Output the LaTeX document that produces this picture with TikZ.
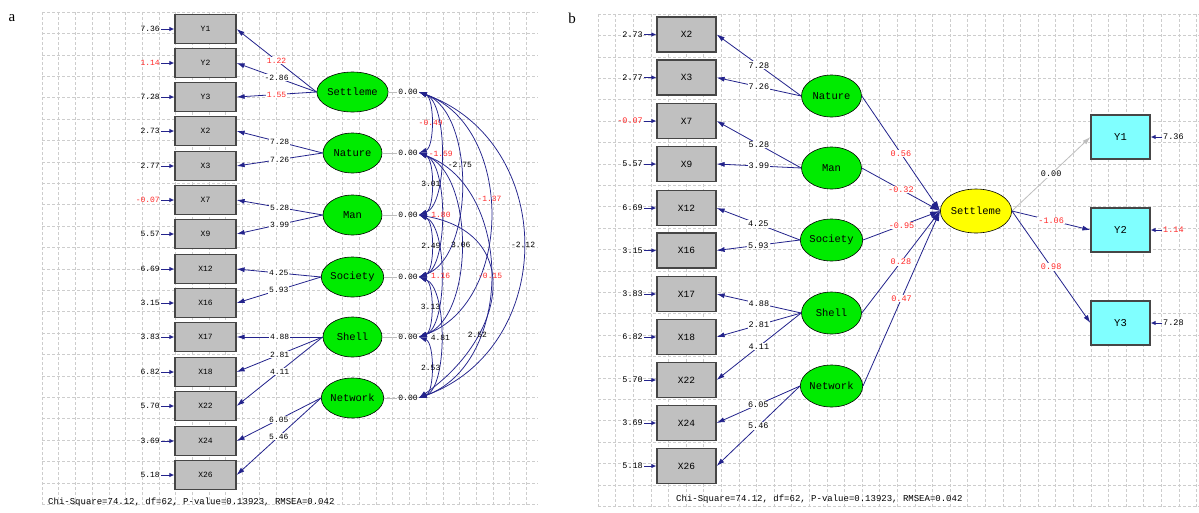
\documentclass[tikz,border=0pt]{standalone}
\usepackage{fontspec}
\setmainfont{Liberation Serif}
\newfontfamily\lisfont{Liberation Mono}
\usepackage{tikz}
\usetikzlibrary{shapes.geometric,arrows.meta}
\definecolor{obsgrey}{RGB}{192,192,192}
\definecolor{boxline}{RGB}{70,70,70}
\definecolor{latgreen}{RGB}{0,235,0}
\definecolor{setyellow}{RGB}{255,255,0}
\definecolor{ycyan}{RGB}{128,255,255}
\definecolor{pathblue}{RGB}{35,35,140}
\definecolor{gridgrey}{RGB}{205,205,205}
\definecolor{zerogrey}{RGB}{190,190,190}
\definecolor{hlred}{RGB}{255,40,40}

\tikzset{
  obs/.style={draw=boxline, line width=1.2pt, fill=obsgrey, minimum width=61pt, minimum height=29pt, inner sep=0pt, font=\lisfont\fontsize{8}{9}\selectfont},
  obsb/.style={obs, minimum width=59pt, minimum height=35pt, font=\lisfont\fontsize{9.5}{10}\selectfont},
  ybox/.style={obsb, fill=ycyan, minimum height=44pt, font=\lisfont\fontsize{10.5}{11}\selectfont},
  lat/.style={ellipse, draw, line width=0.6pt, fill=latgreen, minimum width=59pt, minimum height=40pt, inner sep=0pt, font=\lisfont\fontsize{10.5}{11}\selectfont},
  latb/.style={lat, minimum width=60pt, minimum height=42pt},
  num/.style={inner sep=1pt, font=\lisfont\fontsize{8}{9}\selectfont},
  numb/.style={inner sep=1pt, font=\lisfont\fontsize{8.5}{9}\selectfont},
  lab/.style={num, fill=white},
  labb/.style={numb, fill=white},
  load/.style={draw=pathblue, line width=0.8pt, -{Latex[length=8pt,width=5pt]}},
  err/.style={draw=pathblue, line width=1pt, -{Latex[length=5pt,width=4.5pt]}},
  cov/.style={draw=pathblue, line width=0.75pt, {Latex[length=8pt,width=5pt]}-{Latex[length=8pt,width=5pt]}},
  gridline/.style={gridgrey, dash pattern=on 2.5pt off 2.5pt, line width=0.6pt},
}

\begin{document}
\begin{tikzpicture}[x=1pt,y=1pt]
  \useasboundingbox (0,0) rectangle (1199,-512);
  \fill[white] (0,0) rectangle (1199,-512);

  % grids
  \foreach \gx in {0,...,29}
    \draw[gridline] ({42+16.7*\gx},-12) -- ({42+16.7*\gx},-505);
  \foreach \gy in {0,...,23}
    \draw[gridline] (42,{-12-21.4*\gy}) -- (538,{-12-21.4*\gy});
  \foreach \gx in {0,...,34}
    \draw[gridline] ({598+17.6*\gx},-14) -- ({598+17.6*\gx},-508);
  \foreach \gy in {0,...,23}
    \draw[gridline] (598,{-14-21.4*\gy}) -- (1199,{-14-21.4*\gy});

  \node[font=\fontsize{15}{16}\selectfont] (pa) at (12,-18) {a};
  \node[font=\fontsize{15}{16}\selectfont] (pb) at (572,-18) {b};

  % panel a: indicators
  \node[obs] (aY1) at (205.5,-29) {Y1};
  \node[obs] (aY2) at (205.5,-63) {Y2};
  \node[obs] (aY3) at (205.5,-97) {Y3};
  \node[obs] (aX2) at (205.5,-131) {X2};
  \node[obs] (aX3) at (205.5,-166) {X3};
  \node[obs] (aX7) at (205.5,-200) {X7};
  \node[obs] (aX9) at (205.5,-234) {X9};
  \node[obs] (aX12) at (205.5,-269) {X12};
  \node[obs] (aX16) at (205.5,-303) {X16};
  \node[obs] (aX17) at (205.5,-337) {X17};
  \node[obs] (aX18) at (205.5,-372) {X18};
  \node[obs] (aX22) at (205.5,-406) {X22};
  \node[obs] (aX24) at (205.5,-441) {X24};
  \node[obs] (aX26) at (205.5,-475) {X26};

  \node[num, anchor=east] (eaY1) at (161,-29) {7.36};
  \node[num, anchor=east, text=hlred] (eaY2) at (161,-63) {1.14};
  \node[num, anchor=east] (eaY3) at (161,-97) {7.28};
  \node[num, anchor=east] (eaX2) at (161,-131) {2.73};
  \node[num, anchor=east] (eaX3) at (161,-166) {2.77};
  \node[num, anchor=east, text=hlred] (eaX7) at (161,-200) {-0.07};
  \node[num, anchor=east] (eaX9) at (161,-234) {5.57};
  \node[num, anchor=east] (eaX12) at (161,-269) {6.69};
  \node[num, anchor=east] (eaX16) at (161,-303) {3.15};
  \node[num, anchor=east] (eaX17) at (161,-337) {3.83};
  \node[num, anchor=east] (eaX18) at (161,-372) {6.82};
  \node[num, anchor=east] (eaX22) at (161,-406) {5.70};
  \node[num, anchor=east] (eaX24) at (161,-441) {3.69};
  \node[num, anchor=east] (eaX26) at (161,-475) {5.18};

  \draw[err] (eaY1) -- (aY1);
  \draw[err] (eaY2) -- (aY2);
  \draw[err] (eaY3) -- (aY3);
  \draw[err] (eaX2) -- (aX2);
  \draw[err] (eaX3) -- (aX3);
  \draw[err] (eaX7) -- (aX7);
  \draw[err] (eaX9) -- (aX9);
  \draw[err] (eaX12) -- (aX12);
  \draw[err] (eaX16) -- (aX16);
  \draw[err] (eaX17) -- (aX17);
  \draw[err] (eaX18) -- (aX18);
  \draw[err] (eaX22) -- (aX22);
  \draw[err] (eaX24) -- (aX24);
  \draw[err] (eaX26) -- (aX26);

  % panel a: latent variables
  \node[lat] (aSet) at (352.5,-92) {Settleme};
  \node[lat] (aNat) at (352.5,-153) {Nature};
  \node[lat] (aMan) at (352.5,-215) {Man};
  \node[lat] (aSoc) at (352.5,-277) {Society};
  \node[lat] (aShe) at (352.5,-337) {Shell};
  \node[lat] (aNet) at (352.5,-398) {Network};

  \node[num] (zSet) at (408,-92) {0.00};
  \node[num] (zNat) at (408,-153) {0.00};
  \node[num] (zMan) at (408,-215) {0.00};
  \node[num] (zSoc) at (408,-277) {0.00};
  \node[num] (zShe) at (408,-337) {0.00};
  \node[num] (zNet) at (408,-398) {0.00};

  \draw[zerogrey, line width=0.8pt] (aSet) -- (zSet);
  \draw[zerogrey, line width=0.8pt] (aNat) -- (zNat);
  \draw[zerogrey, line width=0.8pt] (aMan) -- (zMan);
  \draw[zerogrey, line width=0.8pt] (aSoc) -- (zSoc);
  \draw[zerogrey, line width=0.8pt] (aShe) -- (zShe);
  \draw[zerogrey, line width=0.8pt] (aNet) -- (zNet);

  \draw[load] (aSet.west) -- node[lab, text=hlred] {1.22} (aY1.east);
  \draw[load] (aSet.west) -- node[lab] {-2.86} (aY2.east);
  \draw[load] (aSet.west) -- node[lab, text=hlred] {1.55} (aY3.east);
  \draw[load] (aNat.west) -- node[lab] {7.28} (aX2.east);
  \draw[load] (aNat.west) -- node[lab] {7.26} (aX3.east);
  \draw[load] (aMan.west) -- node[lab] {5.28} (aX7.east);
  \draw[load] (aMan.west) -- node[lab] {3.99} (aX9.east);
  \draw[load] (aSoc.west) -- node[lab] {4.25} (aX12.east);
  \draw[load] (aSoc.west) -- node[lab] {5.93} (aX16.east);
  \draw[load] (aShe.west) -- node[lab] {4.88} (aX17.east);
  \draw[load] (aShe.west) -- node[lab] {2.81} (aX18.east);
  \draw[load] (aShe.west) -- node[lab] {4.11} (aX22.east);
  \draw[load] (aNet.west) -- node[lab] {6.05} (aX24.east);
  \draw[load] (aNet.west) -- node[lab] {5.46} (aX26.east);

  % covariances
  \draw[cov] (zSet.east) to[out=-20,in=20,looseness=.71] node[num, text=hlred] {-0.49} (zNat.east);
  \draw[cov] (zSet.east) to[out=-20,in=20,looseness=.65] node[num, text=hlred] {-1.59} (zMan.east);
  \draw[cov] (zSet.east) to[out=-20,in=20,looseness=.83] node[num, pos=.42] {-2.75} (zSoc.east);
  \draw[cov] (zSet.east) to[out=-20,in=20,looseness=1.06] node[num, pos=.45, text=hlred] {-1.37} (zShe.east);
  \draw[cov] (zSet.east) to[out=-20,in=20,looseness=1.24] node[num] {-2.12} (zNet.east);
  \draw[cov] (zNat.east) to[out=-20,in=20,looseness=.71] node[num] {3.01} (zMan.east);
  \draw[cov] (zNat.east) to[out=-20,in=20,looseness=.65] node[num, text=hlred] {1.80} (zSoc.east);
  \draw[cov] (zNat.east) to[out=-20,in=20,looseness=.83] node[num] {3.06} (zShe.east);
  \draw[cov] (zNat.east) to[out=-20,in=20,looseness=1.06] node[num, text=hlred] {-0.15} (zNet.east);
  \draw[cov] (zMan.east) to[out=-20,in=20,looseness=.71] node[num] {2.49} (zSoc.east);
  \draw[cov] (zMan.east) to[out=-20,in=20,looseness=.65] node[num, text=hlred] {1.16} (zShe.east);
  \draw[cov] (zMan.east) to[out=-10,in=35,looseness=1.5] node[num, pos=.7] {2.52} (zNet.east);
  \draw[cov] (zSoc.east) to[out=-20,in=20,looseness=.71] node[num] {3.13} (zShe.east);
  \draw[cov] (zSoc.east) to[out=-20,in=20,looseness=.65] node[num] {4.81} (zNet.east);
  \draw[cov] (zShe.east) to[out=-20,in=20,looseness=.71] node[num] {2.53} (zNet.east);

  \node[anchor=west, inner sep=0pt, font=\lisfont\fontsize{9}{10}\selectfont] (chia) at (48,-502) {Chi-Square=74.12, df=62, P-value=0.13923, RMSEA=0.042};

  % panel b: indicators
  \node[obsb] (bX2) at (686.5,-34.5) {X2};
  \node[obsb] (bX3) at (686.5,-77.5) {X3};
  \node[obsb] (bX7) at (686.5,-121) {X7};
  \node[obsb] (bX9) at (686.5,-164) {X9};
  \node[obsb] (bX12) at (686.5,-208) {X12};
  \node[obsb] (bX16) at (686.5,-250.5) {X16};
  \node[obsb] (bX17) at (686.5,-294) {X17};
  \node[obsb] (bX18) at (686.5,-337) {X18};
  \node[obsb] (bX22) at (686.5,-380) {X22};
  \node[obsb] (bX24) at (686.5,-423) {X24};
  \node[obsb] (bX26) at (686.5,-466) {X26};

  \node[numb, anchor=east] (ebX2) at (644,-34.5) {2.73};
  \node[numb, anchor=east] (ebX3) at (644,-77.5) {2.77};
  \node[numb, anchor=east, text=hlred] (ebX7) at (644,-121) {-0.07};
  \node[numb, anchor=east] (ebX9) at (644,-164) {5.57};
  \node[numb, anchor=east] (ebX12) at (644,-208) {6.69};
  \node[numb, anchor=east] (ebX16) at (644,-250.5) {3.15};
  \node[numb, anchor=east] (ebX17) at (644,-294) {3.83};
  \node[numb, anchor=east] (ebX18) at (644,-337) {6.82};
  \node[numb, anchor=east] (ebX22) at (644,-380) {5.70};
  \node[numb, anchor=east] (ebX24) at (644,-423) {3.69};
  \node[numb, anchor=east] (ebX26) at (644,-466) {5.18};

  \draw[err] (ebX2) -- (bX2);
  \draw[err] (ebX3) -- (bX3);
  \draw[err] (ebX7) -- (bX7);
  \draw[err] (ebX9) -- (bX9);
  \draw[err] (ebX12) -- (bX12);
  \draw[err] (ebX16) -- (bX16);
  \draw[err] (ebX17) -- (bX17);
  \draw[err] (ebX18) -- (bX18);
  \draw[err] (ebX22) -- (bX22);
  \draw[err] (ebX24) -- (bX24);
  \draw[err] (ebX26) -- (bX26);

  % panel b: latent variables
  \node[latb] (bNat) at (831.5,-96) {Nature};
  \node[latb] (bMan) at (831.5,-168) {Man};
  \node[latb] (bSoc) at (831.5,-240) {Society};
  \node[latb] (bShe) at (831.5,-313) {Shell};
  \node[latb] (bNet) at (831.5,-386) {Network};
  \node[latb, fill=setyellow, minimum height=44pt] (bSet) at (976,-211) {Settleme};

  \draw[load] (bNat.west) -- node[labb] {7.28} (bX2.east);
  \draw[load] (bNat.west) -- node[labb] {7.26} (bX3.east);
  \draw[load] (bMan.west) -- node[labb] {5.28} (bX7.east);
  \draw[load] (bMan.west) -- node[labb] {3.99} (bX9.east);
  \draw[load] (bSoc.west) -- node[labb] {4.25} (bX12.east);
  \draw[load] (bSoc.west) -- node[labb] {5.93} (bX16.east);
  \draw[load] (bShe.west) -- node[labb] {4.88} (bX17.east);
  \draw[load] (bShe.west) -- node[labb] {2.81} (bX18.east);
  \draw[load] (bShe.west) -- node[labb] {4.11} (bX22.east);
  \draw[load] (bNet.west) -- node[labb] {6.05} (bX24.east);
  \draw[load] (bNet.west) -- node[labb] {5.46} (bX26.east);

  \draw[load, -{Latex[length=10pt,width=6pt]}] (bNat.east) -- node[labb, text=hlred] {0.56} (bSet.west);
  \draw[load, -{Latex[length=10pt,width=6pt]}] (bMan.east) -- node[labb, text=hlred] {-0.32} (bSet.west);
  \draw[load, -{Latex[length=10pt,width=6pt]}] (bSoc.east) -- node[labb, text=hlred] {-0.95} (bSet.west);
  \draw[load, -{Latex[length=10pt,width=6pt]}] (bShe.east) -- node[labb, text=hlred] {0.28} (bSet.west);
  \draw[load, -{Latex[length=10pt,width=6pt]}] (bNet.east) -- node[labb, text=hlred] {0.47} (bSet.west);

  % panel b: outcomes
  \node[ybox] (bY1) at (1120.5,-137) {Y1};
  \node[ybox] (bY2) at (1120.5,-230) {Y2};
  \node[ybox] (bY3) at (1120.5,-323) {Y3};

  \draw[load, draw=zerogrey] (bSet.east) -- node[labb] {0.00} (bY1.west);
  \draw[load] (bSet.east) -- node[labb, text=hlred] {-1.06} (bY2.west);
  \draw[load] (bSet.east) -- node[labb, text=hlred] {0.98} (bY3.west);

  \node[numb, anchor=west] (ebY1) at (1162,-137) {7.36};
  \node[numb, anchor=west, text=hlred] (ebY2) at (1162,-230) {1.14};
  \node[numb, anchor=west] (ebY3) at (1162,-323) {7.28};
  \draw[err] (ebY1) -- (bY1);
  \draw[err] (ebY2) -- (bY2);
  \draw[err] (ebY3) -- (bY3);

  \node[anchor=west, inner sep=0pt, font=\lisfont\fontsize{9}{10}\selectfont] (chib) at (676,-499) {Chi-Square=74.12, df=62, P-value=0.13923, RMSEA=0.042};
\end{tikzpicture}
\end{document}
